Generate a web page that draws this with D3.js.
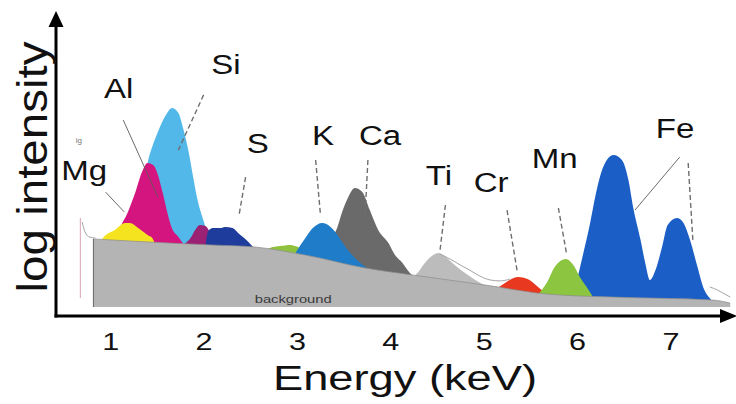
<!DOCTYPE html>
<html>
<head>
<meta charset="utf-8">
<script src="https://cdn.jsdelivr.net/npm/d3@7"></script>
<style>
  html, body { margin: 0; padding: 0; background: #fff; }
  svg { display: block; font-family: "Liberation Sans", Arial, sans-serif; }
</style>
</head>
<body>
<div id="chart"></div>
<script>
// energy axis (keV) and peak outlines, [keV, log intensity]
const energyTicks = [1, 2, 3, 4, 5, 6, 7];
const backgroundFloor = 0.3;

const background = [[0.82,2.57],[1.21,2.50],[1.64,2.43],[2.07,2.37],[2.55,2.30],[3.09,2.03],[3.73,1.60],
  [4.23,1.37],[5.02,1.03],[5.68,0.73],[6.39,0.63],[7.46,0.53],[7.64,0.43]];

const siPeak = [[1.21,2.33],[1.32,3.87],[1.40,5.10],[1.51,6.13],[1.61,6.77],[1.66,6.93],[1.73,6.77],
  [1.78,6.27],[1.84,5.47],[1.89,4.60],[1.94,3.80],[1.99,3.27],[2.03,2.87],[2.09,2.33]];
const alPeak = [[1.05,2.33],[1.09,2.80],[1.19,3.47],[1.27,4.13],[1.34,4.80],[1.40,5.10],[1.46,5.03],
  [1.50,4.80],[1.56,4.13],[1.61,3.47],[1.66,2.93],[1.73,2.63],[1.80,2.33]];
const mgPeak = [[0.89,2.37],[0.93,2.63],[1.05,2.87],[1.16,3.10],[1.21,3.10],[1.30,2.93],[1.40,2.70],
  [1.45,2.60],[1.49,2.33]];
const pPeak = [[1.75,2.33],[1.86,2.60],[1.91,2.87],[1.96,3.03],[2.02,3.00],[2.07,2.80],[2.15,2.60],[2.20,2.33]];
const sPeak = [[2.02,2.33],[2.05,2.83],[2.10,2.93],[2.18,2.93],[2.23,2.97],[2.31,2.93],[2.37,2.77],
  [2.48,2.47],[2.54,2.27]];
const arPeak = [[2.63,2.13],[2.71,2.27],[2.82,2.33],[2.93,2.37],[3.01,2.30],[3.10,2.13],[3.16,1.93]];
const caPeak = [[3.36,2.53],[3.43,2.93],[3.48,3.43],[3.55,3.97],[3.62,4.27],[3.70,4.13],[3.78,3.53],
  [3.87,2.87],[3.98,2.43],[4.05,2.03],[4.13,1.77],[4.21,1.43],[4.30,1.20]];
const kPeak = [[2.99,2.13],[3.09,2.60],[3.17,2.93],[3.27,3.10],[3.36,2.97],[3.41,2.80],[3.52,2.30],
  [3.62,1.93],[3.73,1.63],[3.81,1.37]];
const tiPeak = [[4.21,1.20],[4.30,1.47],[4.37,1.77],[4.46,2.03],[4.51,2.10],[4.59,1.97],[4.69,1.70],
  [4.80,1.43],[4.91,1.20],[5.02,1.00]];
const fePeak = [[5.95,0.53],[6.03,1.60],[6.14,3.10],[6.21,4.20],[6.28,4.97],[6.39,5.37],[6.48,5.20],
  [6.55,4.53],[6.60,3.63],[6.68,2.53],[6.73,1.77],[6.78,1.20],[6.84,1.53],[6.91,2.30],[6.97,3.03],
  [7.07,3.27],[7.14,3.10],[7.21,2.53],[7.29,1.63],[7.35,0.97],[7.42,0.60],[7.49,0.40]];
const crPeak = [[5.09,0.80],[5.18,1.00],[5.26,1.17],[5.37,1.30],[5.47,1.23],[5.57,1.00],[5.67,0.73]];
const mnPeak = [[5.58,0.70],[5.63,0.90],[5.68,1.13],[5.76,1.63],[5.88,1.90],[5.96,1.70],[6.03,1.30],
  [6.11,0.93],[6.17,0.63]];

// bits of the measured spectrum that show outside the coloured fits
const spectrumMid = [[4.53,2.07],[4.64,1.90],[4.75,1.70],[4.85,1.53],[4.96,1.33],[5.07,1.20],[5.18,1.17],[5.28,1.23]];
const spectrumEnd = [[7.42,0.97],[7.50,0.87],[7.56,0.77],[7.64,0.63]];
const spectrumStart = [[0.70,3.13],[0.73,2.80],[0.78,2.63],[0.84,2.60]];

// element labels and their leader lines
const elements = ['Mg', 'Al', 'Si', 'S', 'K', 'Ca', 'Ti', 'Cr', 'Mn', 'Fe'];
const labelKeV = [0.72, 1.09, 2.24, 2.58, 3.28, 3.89, 4.52, 5.08, 5.76, 7.05];
const labelVal = [4.53, 7.27, 8.07, 5.43, 5.70, 5.70, 4.37, 4.13, 4.93, 5.93];
const leaders = [
  [0.95,4.13,1.15,3.47,'solid'], [1.14,6.53,1.51,3.97,'solid'], [2.00,7.37,1.73,5.53,'dash'],
  [2.45,4.63,2.38,3.37,'dash'], [3.20,5.20,3.25,3.43,'dash'], [3.76,5.20,3.73,3.37,'dash'],
  [4.59,3.70,4.53,2.13,'dash'], [5.25,3.53,5.36,1.47,'dash'], [5.80,3.60,5.89,2.03,'dash'],
  [7.10,5.30,6.62,3.53,'solid'], [7.19,5.10,7.24,2.53,'dash']
];

const width = 736, height = 404;

const svg = d3.select('#chart').append('svg')
  .attr('width', width)
  .attr('height', height);

const x = d3.scaleLinear().domain([0.43, 7.67]).range([57, 733]);
const y = d3.scaleLinear().domain([0, 10]).range([316, 16]);

const area = d3.area()
  .x(d => x(d[0]))
  .y0(y(backgroundFloor))
  .y1(d => y(d[1]))
  .curve(d3.curveMonotoneX);

const line = d3.line()
  .x(d => x(d[0]))
  .y(d => y(d[1]))
  .curve(d3.curveMonotoneX);

// draw order matters, later fits sit on top of earlier ones
const layers = [
  {pts: siPeak, fill: '#52b8e9'},
  {pts: alPeak, fill: '#d4157f'},
  {pts: mgPeak, fill: '#f6e31f'},
  {pts: pPeak, fill: '#9a2173'},
  {pts: sPeak, fill: '#1d3c9c'},
  {pts: arPeak, fill: '#8fc13e'},
  {pts: caPeak, fill: '#6a6a6a'},
  {pts: kPeak, fill: '#1f7cc8'},
  {pts: tiPeak, fill: '#bcbcbc'},
  {pts: fePeak, fill: '#1a5ec6'},
  {pts: crPeak, fill: '#e8381f'},
  {pts: mnPeak, fill: '#8cc53f'}
];

svg.append('g').attr('class', 'peaks')
  .selectAll('path')
  .data(layers)
  .enter().append('path')
  .attr('d', d => area(d.pts))
  .attr('fill', d => d.fill);

svg.append('path')
  .datum(background)
  .attr('d', area)
  .attr('fill', '#b4b4b4');

svg.append('path')
  .datum(background)
  .attr('d', line)
  .attr('fill', 'none')
  .attr('stroke', '#8c8c8c')
  .attr('stroke-width', 0.7);

svg.append('line')
  .attr('x1', x(background[0][0])).attr('x2', x(background[0][0]))
  .attr('y1', y(background[0][1])).attr('y2', y(backgroundFloor))
  .attr('stroke', '#666').attr('stroke-width', 1);

svg.append('text')
  .attr('x', x(2.96)).attr('y', y(0.43))
  .attr('text-anchor', 'middle')
  .attr('font-size', 11)
  .attr('textLength', 77)
  .attr('lengthAdjust', 'spacingAndGlyphs')
  .attr('fill', '#3a3a3a')
  .text('background');

// measured spectrum fragments
[spectrumMid, spectrumEnd, spectrumStart].forEach(s => {
  svg.append('path')
    .datum(s)
    .attr('d', line)
    .attr('fill', 'none')
    .attr('stroke', '#9a9a9a')
    .attr('stroke-width', 0.9);
});
svg.append('line')
  .attr('x1', x(0.68)).attr('x2', x(0.68))
  .attr('y1', y(3.27)).attr('y2', y(0.6))
  .attr('stroke', '#d8a3b3').attr('stroke-width', 1);

// leader lines
svg.append('g').attr('class', 'leaders')
  .selectAll('line')
  .data(leaders)
  .enter().append('line')
  .attr('x1', d => x(d[0])).attr('y1', d => y(d[1]))
  .attr('x2', d => x(d[2])).attr('y2', d => y(d[3]))
  .attr('stroke', d => d[4] === 'dash' ? '#6e6e6e' : '#5a5a5a')
  .attr('stroke-width', d => d[4] === 'dash' ? 1.4 : 0.9)
  .attr('stroke-dasharray', d => d[4] === 'dash' ? '5,3' : null);

svg.append('g').attr('class', 'labels')
  .selectAll('text')
  .data(elements)
  .enter().append('text')
  .attr('transform', (d, i) => `translate(${x(labelKeV[i])},${y(labelVal[i])}) scale(1.18,1)`)
  .attr('text-anchor', 'middle')
  .attr('font-size', 28)
  .attr('fill', '#111')
  .text(d => d);

svg.append('text')
  .attr('x', x(0.63)).attr('y', y(5.77))
  .attr('font-size', 8)
  .attr('fill', '#777')
  .text('ig');

// axes with arrow heads
const x0 = x.range()[0] - 1, y0 = y.range()[0];
svg.append('line')
  .attr('x1', x0).attr('x2', x0)
  .attr('y1', y0 + 1.5).attr('y2', 24)
  .attr('stroke', '#000').attr('stroke-width', 3);
svg.append('path')
  .attr('d', `M${x0 - 7.5},27 L${x0},11 L${x0 + 7.5},27 Z`)
  .attr('fill', '#000');
svg.append('line')
  .attr('x1', x0 - 1.5).attr('x2', 724)
  .attr('y1', y0).attr('y2', y0)
  .attr('stroke', '#000').attr('stroke-width', 3);
svg.append('path')
  .attr('d', `M720,${y0 - 7} L737,${y0} L720,${y0 + 7} Z`)
  .attr('fill', '#000');

const xAxis = svg.append('g')
  .attr('transform', `translate(0,${y0})`)
  .call(d3.axisBottom(x).tickValues(energyTicks).tickSize(0).tickPadding(18).tickFormat(d3.format('d')));
xAxis.select('.domain').remove();
xAxis.selectAll('text')
  .attr('font-size', 23)
  .attr('font-family', '"Liberation Sans", Arial, sans-serif')
  .attr('fill', '#111')
  .attr('textLength', 17)
  .attr('lengthAdjust', 'spacingAndGlyphs');

svg.append('text')
  .attr('x', 405).attr('y', 390)
  .attr('text-anchor', 'middle')
  .attr('font-size', 35)
  .attr('textLength', 264)
  .attr('lengthAdjust', 'spacingAndGlyphs')
  .attr('fill', '#111')
  .text('Energy (keV)');

svg.append('text')
  .attr('transform', 'translate(47,167) rotate(-90)')
  .attr('text-anchor', 'middle')
  .attr('font-size', 42)
  .attr('textLength', 251)
  .attr('lengthAdjust', 'spacingAndGlyphs')
  .attr('fill', '#111')
  .text('log intensity');
</script>
</body>
</html>
